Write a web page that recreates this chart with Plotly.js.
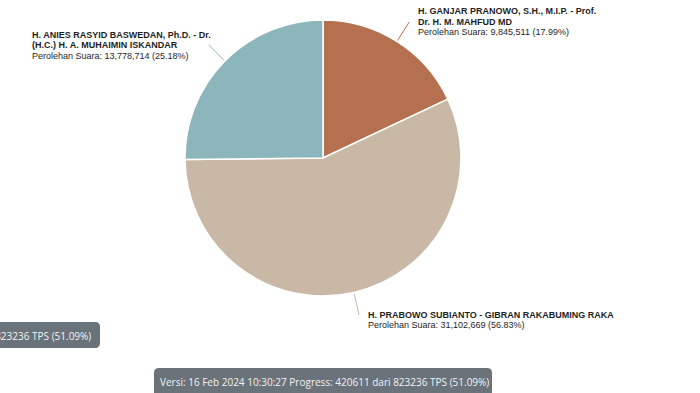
<!DOCTYPE html>
<html>
<head>
<meta charset="utf-8">
<script src="https://cdn.plot.ly/plotly-3.0.1.min.js"></script>
<style>html,body{margin:0;padding:0;background:#fff;}#chart{width:700px;height:393px;}</style>
</head>
<body>
<div id="chart"></div>
<script>
// ---- data ----
var candidateNames = [
  "H. GANJAR PRANOWO, S.H., M.I.P. - Prof. Dr. H. M. MAHFUD MD",
  "H. PRABOWO SUBIANTO - GIBRAN RAKABUMING RAKA",
  "H. ANIES RASYID BASWEDAN, Ph.D. - Dr. (H.C.) H. A. MUHAIMIN ISKANDAR"
];
var nameLines = [
  ["H. GANJAR PRANOWO, S.H., M.I.P. - Prof.", "Dr. H. M. MAHFUD MD"],
  ["H. PRABOWO SUBIANTO - GIBRAN RAKABUMING RAKA"],
  ["H. ANIES RASYID BASWEDAN, Ph.D. - Dr.", "(H.C.) H. A. MUHAIMIN ISKANDAR"]
];
var votes = [9845511, 31102669, 13778714];
var percentLabels = ["17.99%", "56.83%", "25.18%"];
var voteLabels = ["9,845,511", "31,102,669", "13,778,714"];
var sliceColors = ["#b5714f", "#c8b8a5", "#8db6bc"];
var infoText = "Versi: 16 Feb 2024 10:30:27 Progress: 420611 dari 823236 TPS (51.09%)";

// ---- layout helpers ----
var W = 700, H = 393;
function px(x){ return x / W; }
function py(y){ return 1 - y / H; }
var CX = 323, CY = 158, R = 138;

var total = votes.reduce(function(a,b){return a+b;}, 0);

// leader lines from slice midpoints (clockwise from 12 o'clock)
var shapes = [];
var cum = 0;
for (var i = 0; i < votes.length; i++) {
  var mid = (cum + votes[i] / 2) / total * 2 * Math.PI;
  cum += votes[i];
  var sx = CX + (R + 1) * Math.sin(mid), sy = CY - (R + 1) * Math.cos(mid);
  var ex = CX + (R + 23) * Math.sin(mid), ey = CY - (R + 23) * Math.cos(mid);
  shapes.push({type: "line", xref: "paper", yref: "paper",
    x0: px(sx), y0: py(sy), x1: px(ex), y1: py(ey),
    line: {color: sliceColors[i], width: 1}});
}

// rounded info boxes
function roundRect(x0, y0, x1, y1, r) {
  return "M" + px(x0 + r) + "," + py(y0) +
    " L" + px(x1 - r) + "," + py(y0) +
    " Q" + px(x1) + "," + py(y0) + " " + px(x1) + "," + py(y0 + r) +
    " L" + px(x1) + "," + py(y1 - r) +
    " Q" + px(x1) + "," + py(y1) + " " + px(x1 - r) + "," + py(y1) +
    " L" + px(x0 + r) + "," + py(y1) +
    " Q" + px(x0) + "," + py(y1) + " " + px(x0) + "," + py(y1 - r) +
    " L" + px(x0) + "," + py(y0 + r) +
    " Q" + px(x0) + "," + py(y0) + " " + px(x0 + r) + "," + py(y0) + " Z";
}
shapes.push({type: "path", xref: "paper", yref: "paper", layer: "below",
  path: roundRect(154, 368, 492, 398, 5), fillcolor: "#6b737a", line: {width: 0}});
shapes.push({type: "path", xref: "paper", yref: "paper", layer: "below",
  path: roundRect(-240, 322, 100, 348, 5), fillcolor: "#6b737a", line: {width: 0}});

// label annotations
var annotations = [];
var labelPos = [
  {x: 416, y: 11.5, anchor: "left"},
  {x: 366, y: 315, anchor: "left"},
  {x: 30, y: 35, anchor: "left"}
];
var LS = 10.3;
var labelFont = {family: "Liberation Sans, Arial, sans-serif", size: 9, color: "#1e1e1e"};
for (var k = 0; k < candidateNames.length; k++) {
  var lines = nameLines[k];
  var p = labelPos[k];
  for (var j = 0; j < lines.length; j++) {
    annotations.push({xref: "paper", yref: "paper", x: px(p.x), y: py(p.y + j * LS),
      xanchor: p.anchor, yanchor: "middle", showarrow: false,
      text: "<b>" + lines[j] + "</b>", font: labelFont});
  }
  annotations.push({xref: "paper", yref: "paper", x: px(p.x), y: py(p.y + lines.length * LS),
    xanchor: p.anchor, yanchor: "middle", showarrow: false,
    text: "Perolehan Suara: " + voteLabels[k] + " (" + percentLabels[k] + ")",
    font: labelFont});
}
var infoFont = {family: "Open Sans, sans-serif", size: 10, color: "#f2f2f2"};
annotations.push({xref: "paper", yref: "paper", x: px(324), y: py(382),
  xanchor: "center", yanchor: "middle", showarrow: false, text: infoText, font: infoFont});
annotations.push({xref: "paper", yref: "paper", x: px(93), y: py(335.5),
  xanchor: "right", yanchor: "middle", showarrow: false, text: infoText, font: infoFont});

var trace = {
  type: "pie",
  labels: candidateNames,
  values: votes,
  sort: false,
  direction: "clockwise",
  rotation: 0,
  textinfo: "none",
  hoverinfo: "none",
  showlegend: false,
  marker: {colors: sliceColors, line: {color: "#ffffff", width: 1.5}},
  domain: {x: [px(CX - R), px(CX + R)], y: [py(CY + R), py(CY - R)]}
};

var layout = {
  width: W, height: H,
  margin: {l: 0, r: 0, t: 0, b: 0},
  paper_bgcolor: "#ffffff",
  showlegend: false,
  shapes: shapes,
  annotations: annotations
};

Plotly.newPlot("chart", [trace], layout, {displayModeBar: false, staticPlot: true});
</script>
</body>
</html>
